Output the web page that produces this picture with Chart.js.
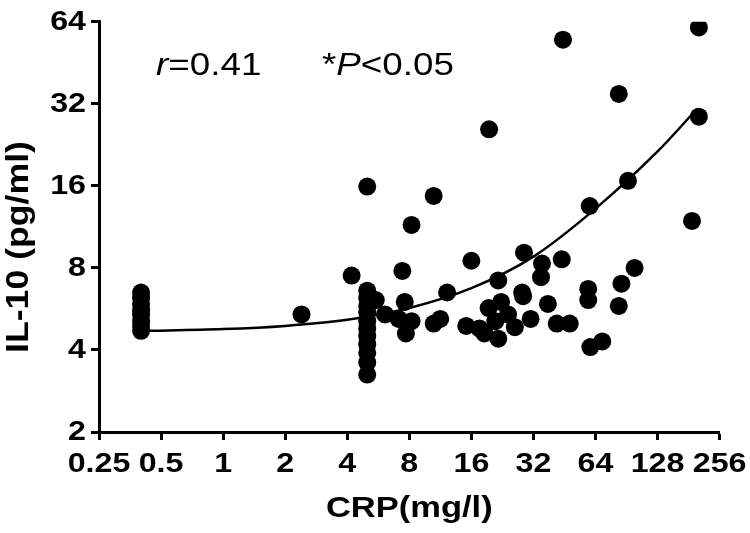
<!DOCTYPE html>
<html>
<head>
<meta charset="utf-8">
<script src="https://cdn.jsdelivr.net/npm/chart.js@4/dist/chart.umd.min.js"></script>
<style>
  html, body { margin: 0; padding: 0; background: #ffffff; }
  #wrap { width: 750px; height: 533px; position: relative; }
</style>
</head>
<body>
<div id="wrap"><canvas id="c" width="750" height="533"></canvas></div>
<script>
// ---- data ----
const crpValues = [
  0.4, 0.4, 0.4, 0.4, 0.4, 0.4, 0.4, 0.4,
  2.4, 4.2,
  5, 5, 5, 5, 5, 5, 5, 5, 5, 5, 5, 5,
  5.5, 6.1, 7.1, 7.4, 7.6, 7.7, 8.2, 8.2,
  10.5, 10.5, 11.3, 12.2, 16, 15.1, 17.5, 18.5,
  19.5, 19.4, 20.9, 21.6, 22.3, 21.6, 24.1, 26,
  28.2, 28.5, 28.8, 31, 34.8, 35.2, 37.6, 41.5,
  43.9, 44.5, 48, 59, 59, 60, 60.4, 69,
  83, 83, 85.5, 92, 99, 188, 203, 203
];
const il10Values = [
  6.5, 6.2, 5.9, 5.6, 5.4, 5.1, 4.9, 4.7,
  5.4, 7.5,
  15.9, 6.6, 6.2, 5.8, 5.5, 5.1, 4.8, 4.5, 4.2, 3.9, 3.6, 3.25,
  6.1, 5.4, 5.2, 7.8, 6.0, 4.6, 5.1, 11.5,
  14.7, 5.0, 5.2, 6.5, 8.5, 4.9, 4.8, 4.6,
  25.8, 5.7, 5.1, 7.2, 6.0, 4.4, 5.4, 4.85,
  6.5, 6.3, 9.1, 5.2, 7.4, 8.3, 5.9, 5.0,
  8.6, 55, 5.0, 6.7, 6.1, 13.5, 4.1, 4.3,
  34.8, 5.8, 7.0, 16.7, 8.0, 11.9, 61, 28.7
];
// fitted curve at a few x positions
const fitCrp  = [0.4, 1, 2, 4, 8, 16, 32, 64, 128, 199];
const fitIl10 = [4.7, 4.77, 4.9, 5.16, 5.7, 6.74, 8.8, 13.2, 21.4, 30.7];

const xTickValues = [0.25, 0.5, 1, 2, 4, 8, 16, 32, 64, 128, 256];
const yTickValues = [2, 4, 8, 16, 32, 64];

const xTitle = 'CRP(mg/l)';
const yTitle = 'IL-10 (pg/ml)';

// ---- chart ----
const FONT = '"Liberation Sans", Arial, sans-serif';
const TEXT_STRETCH = 1.15; // the reference lettering is a little wider than Arial

const scatterData = crpValues.map((x, i) => ({ x: x, y: il10Values[i] }));
const fitData = fitCrp.map((x, i) => ({ x: x, y: fitIl10[i] }));

// draw every text a bit wider, anchored at its own alignment point
const widenPlugin = {
  id: 'widenPlugin',
  beforeDraw(chart) {
    const ctx = chart.ctx;
    if (ctx.__widened) return;
    const orig = ctx.fillText.bind(ctx);
    ctx.fillText = function (text, x, y, maxWidth) {
      this.save();
      this.translate(x, y);
      this.scale(TEXT_STRETCH, 1);
      orig(text, 0, 0);
      this.restore();
    };
    ctx.__widened = true;
  }
};

const textPlugin = {
  id: 'textPlugin',
  afterDraw(chart) {
    const ctx = chart.ctx;
    ctx.save();
    ctx.fillStyle = '#000';
    // y axis title
    ctx.save();
    ctx.translate(19, 247);
    ctx.rotate(-Math.PI / 2);
    ctx.textAlign = 'center';
    ctx.textBaseline = 'middle';
    ctx.font = 'bold 31px ' + FONT;
    ctx.fillText(yTitle, 0, 0);
    ctx.restore();
    // annotation
    ctx.textBaseline = 'alphabetic';
    ctx.textAlign = 'left';
    const base = 75;
    let x = 156;
    ctx.font = 'italic 32px ' + FONT;
    ctx.fillText('r', x, base);
    x += ctx.measureText('r').width * TEXT_STRETCH;
    ctx.font = '32px ' + FONT;
    ctx.fillText('=0.41', x, base);
    x = 322;
    ctx.fillText('*', x, base);
    x += ctx.measureText('*').width * TEXT_STRETCH;
    ctx.font = 'italic 32px ' + FONT;
    ctx.fillText('P', x, base);
    x += ctx.measureText('P').width * TEXT_STRETCH;
    ctx.font = '32px ' + FONT;
    ctx.fillText('<0.05', x, base);
    ctx.restore();
  }
};

new Chart(document.getElementById('c'), {
  data: {
    datasets: [
      {
        type: 'line',
        data: fitData,
        borderColor: '#000',
        borderWidth: 2.5,
        pointRadius: 0,
        fill: false,
        cubicInterpolationMode: 'monotone'
      },
      {
        type: 'scatter',
        data: scatterData,
        backgroundColor: '#000',
        borderColor: '#000',
        borderWidth: 0,
        pointRadius: 9,
        pointHoverRadius: 9
      }
    ]
  },
  options: {
    responsive: false,
    animation: false,
    events: [],
    layout: { padding: { left: 0, right: 27, top: 17, bottom: 0 } },
    plugins: { legend: { display: false }, tooltip: { enabled: false } },
    scales: {
      x: {
        type: 'logarithmic',
        position: 'bottom',
        min: 0.25,
        max: 256,
        afterBuildTicks(scale) { scale.ticks = xTickValues.map(v => ({ value: v })); },
        afterFit(scale) { scale.height = 101; },
        border: { display: true, color: '#000', width: 3 },
        grid: { display: true, drawOnChartArea: false, drawTicks: true, tickLength: 8, tickWidth: 3, tickColor: '#000', color: '#000' },
        ticks: {
          autoSkip: false,
          maxRotation: 0,
          color: '#000',
          padding: 7,
          font: { family: FONT, size: 28, weight: 'bold' },
          callback: (v) => String(v)
        },
        title: {
          display: true,
          text: xTitle,
          color: '#000',
          font: { family: FONT, size: 30, weight: 'bold' },
          padding: { top: 0, bottom: 6 }
        }
      },
      y: {
        type: 'logarithmic',
        position: 'left',
        min: 2,
        max: 64,
        afterBuildTicks(scale) { scale.ticks = yTickValues.map(v => ({ value: v })); },
        afterFit(scale) { scale.width = 99; },
        border: { display: true, color: '#000', width: 3 },
        grid: { display: true, drawOnChartArea: false, drawTicks: true, tickLength: 8, tickWidth: 3, tickColor: '#000', color: '#000' },
        ticks: {
          autoSkip: false,
          color: '#000',
          padding: 5,
          font: { family: FONT, size: 28, weight: 'bold' },
          callback: (v) => String(v)
        },
        title: { display: false }
      }
    }
  },
  plugins: [widenPlugin, textPlugin]
});
</script>
</body>
</html>
